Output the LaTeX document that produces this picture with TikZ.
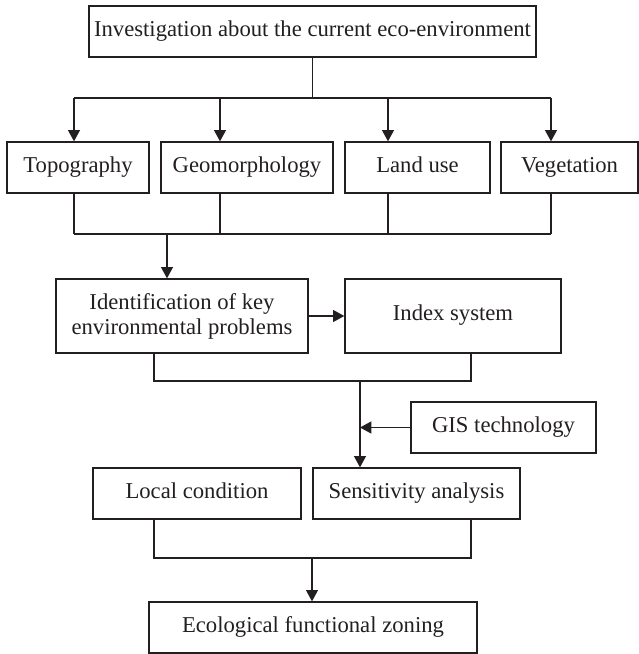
\documentclass[tikz,border=0pt]{standalone}
\usepackage{fontspec}
\setmainfont{Liberation Serif}
\usetikzlibrary{arrows.meta}
\definecolor{ink}{RGB}{35,31,32}
\begin{document}
\begin{tikzpicture}[x=0.75pt,y=-0.75pt,
  box/.style={draw=ink, line width=1pt, rectangle, inner sep=0pt, align=center,
    text=ink, font=\fontsize{17}{18.75}\selectfont, minimum height=38.25pt},
  oneline/.style={box, text height=11pt, text depth=4pt},
  link/.style={draw=ink, line width=1pt},
  arr/.style={link, -{Triangle[width=9pt,length=8.5pt]}}]
\useasboundingbox (0,0) rectangle (639,654);

% boxes
\node[oneline, minimum width=335.25pt] (top) at (312.5,31.5) {Investigation about the current eco-environment};
\node[oneline, minimum width=106.5pt] (topo) at (78,167.5) {Topography};
\node[oneline, minimum width=129pt] (geo) at (247,167.5) {Geomorphology};
\node[oneline, minimum width=108.75pt] (land) at (417.5,167.5) {Land use};
\node[oneline, minimum width=102.75pt] (veg) at (569.5,167.5) {Vegetation};
\node[box, minimum width=189pt, minimum height=55.5pt] (ident) at (182,316) {Identification of key\\environmental problems};
\node[oneline, minimum width=162pt, minimum height=55.5pt] (index) at (453,316) {Index system};
\node[oneline, minimum width=138.75pt] (gis) at (503.5,427.5) {GIS technology};
\node[oneline, minimum width=156pt] (local) at (197,493.5) {Local condition};
\node[oneline, minimum width=155.25pt] (sens) at (416.5,493.5) {Sensitivity analysis};
\node[oneline, minimum width=246pt] (eco) at (313,627.5) {Ecological functional zoning};

% branch points of the connector buses
\coordinate (a1) at (74,98);
\coordinate (a2) at (220,98);
\coordinate (a3) at (388,98);
\coordinate (a4) at (551,98);
\coordinate (b1) at (74,234);
\coordinate (b2) at (220,234);
\coordinate (b3) at (388,234);
\coordinate (b4) at (551,234);
\coordinate (b0) at (167,234);
\coordinate (c1) at (154,381);
\coordinate (c2) at (471,381);
\coordinate (c0) at (360,381);
\coordinate (g0) at (360,427.5);
\coordinate (d1) at (154,558);
\coordinate (d2) at (471,558);
\coordinate (d0) at (312,558);

% survey to the four factors
\draw[link] (top.south) -- (top.south |- a1);
\draw[link] (a1) -- (a4);
\foreach \p/\n in {a1/topo, a2/geo, a3/land, a4/veg}
  \draw[arr] (\p) -- (\p |- \n.north);

% factors to problem identification
\foreach \p/\n in {b1/topo, b2/geo, b3/land, b4/veg}
  \draw[link] (\p |- \n.south) -- (\p);
\draw[link] (b1) -- (b4);
\draw[arr] (b0) -- (b0 |- ident.north);

\draw[arr] (ident.east) -- (index.west);

% problems and index system to sensitivity analysis
\draw[link] (c1 |- ident.south) -- (c1) -- (c2) -- (c2 |- index.south);
\draw[arr] (c0) -- (c0 |- sens.north);
\draw[arr] (gis.west) -- (g0);

% to the zoning
\draw[link] (d1 |- local.south) -- (d1) -- (d2) -- (d2 |- sens.south);
\draw[arr] (d0) -- (d0 |- eco.north);
\end{tikzpicture}
\end{document}
